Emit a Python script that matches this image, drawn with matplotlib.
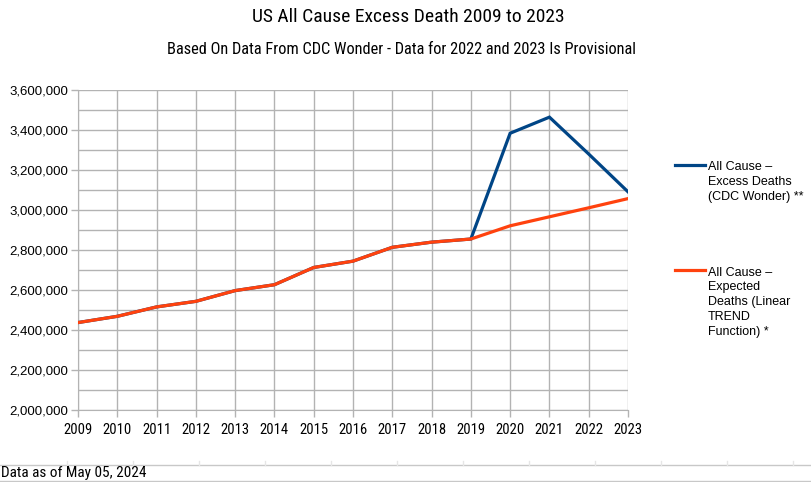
import matplotlib
matplotlib.use("Agg")
import matplotlib.pyplot as plt
from matplotlib import font_manager
from matplotlib.ticker import FuncFormatter, MultipleLocator
from matplotlib.lines import Line2D

years = [2009, 2010, 2011, 2012, 2013, 2014, 2015, 2016, 2017, 2018, 2019, 2020, 2021, 2022, 2023]
actual_deaths = [2437163, 2468435, 2515458, 2543279, 2596993, 2626418, 2712630, 2744248,
                 2813503, 2839205, 2854838, 3383729, 3464231, 3279857, 3090964]
expected_deaths = [2437163, 2468435, 2515458, 2543279, 2596993, 2626418, 2712630, 2744248,
                   2813503, 2839205, 2854838, 2921000, 2966000, 3011000, 3057000]
series_labels = ["All Cause \u2013\nExcess Deaths\n(CDC Wonder) **",
                 "All Cause \u2013\nExpected\nDeaths (Linear\nTREND\nFunction) *"]
title = "US All Cause Excess Death 2009 to 2023"
subtitle = "Based On Data From CDC Wonder - Data for 2022 and 2023 Is Provisional"
footnote = "Data as of May 05, 2024"

# look for an installed narrow/condensed sans font
narrow_font = None
names = sorted({f.name for f in font_manager.fontManager.ttflist})
for cand in ["Liberation Sans Narrow", "Arial Narrow", "DejaVu Sans Condensed",
             "Roboto Condensed", "Open Sans Condensed", "Noto Sans Condensed"]:
    if cand in names:
        narrow_font = cand
        break
if narrow_font is None:
    for f in font_manager.fontManager.ttflist:
        if f.stretch in ("condensed", "semi-condensed", "extra-condensed") and "Mono" not in f.name:
            narrow_font = f.name
            break

regular = ["Liberation Sans", "DejaVu Sans"]
plt.rcParams["font.family"] = regular
if narrow_font:
    narrow = [narrow_font, "Liberation Sans", "DejaVu Sans"]
    sz_title, sz_sub, sz_x, sz_foot = 14, 11.8, 10.5, 11
else:
    narrow = regular
    sz_title, sz_sub, sz_x, sz_foot = 12.5, 10.2, 10, 8.5

W, H = 812, 482
fig = plt.figure(figsize=(W / 100, H / 100), dpi=100)
x0, x1, y0, y1 = 78, 628, 90, 410
ax = fig.add_axes([x0 / W, 1 - y1 / H, (x1 - x0) / W, (y1 - y0) / H])

blue = "#004586"
red = "#ff420e"
ax.plot(years, actual_deaths, color=blue, lw=2.3, solid_joinstyle="miter", zorder=3)
ax.plot(years, expected_deaths, color=red, lw=2.3, solid_joinstyle="miter", zorder=4)

ax.set_xlim(2009, 2023)
ax.set_ylim(2000000, 3600000)
ax.set_xticks(years)
ax.set_xticklabels([str(y) for y in years], family=narrow, fontsize=sz_x)
ax.yaxis.set_major_locator(MultipleLocator(200000))
ax.yaxis.set_minor_locator(MultipleLocator(100000))
ax.yaxis.set_major_formatter(FuncFormatter(lambda v, p: f"{int(v):,}"))
for lab in ax.get_yticklabels():
    lab.set_fontsize(9.5)

gc = "#b3b3b3"
ax.grid(True, which="major", color=gc, lw=1.0)
ax.grid(True, which="minor", axis="y", color=gc, lw=1.0)
ax.tick_params(axis="both", which="major", length=5, width=1, color=gc, pad=2, labelcolor="black")
ax.tick_params(axis="x", pad=4)
ax.tick_params(axis="y", which="minor", length=0)
for s in ["top", "right"]:
    ax.spines[s].set_visible(False)
for s in ["left", "bottom"]:
    ax.spines[s].set_color(gc)

fig.text(408 / W, 1 - 17 / H, title, ha="center", va="center", family=narrow, fontsize=sz_title)
fig.text(402 / W, 1 - 49 / H, subtitle, ha="center", va="center", family=narrow, fontsize=sz_sub)

# legend
for (ly, col, lab) in [(165, blue, series_labels[0]), (270, red, series_labels[1])]:
    fig.add_artist(Line2D([675 / W, 705 / W], [1 - ly / H, 1 - ly / H], color=col, lw=2.3))
    fig.text(708 / W, 1 - (ly - 3.5) / H, lab, ha="left", va="top", fontsize=9,
             linespacing=1.32)

# bottom strip
fig.add_artist(Line2D([0, 1], [1 - 464.5 / H, 1 - 464.5 / H], color="#c8c8c8", lw=1))
fig.add_artist(Line2D([0, 1], [1 - 481 / H, 1 - 481 / H], color="#c8c8c8", lw=1))
for tx in range(67, 812, 66):
    fig.add_artist(Line2D([tx / W, tx / W], [1 - 464.5 / H, 1 - 461 / H], color="#e6e6e6", lw=1))
fig.text(1 / W, 1 - 473 / H, footnote, ha="left", va="center", family=narrow, fontsize=sz_foot)

fig.savefig("out.png", dpi=100)
